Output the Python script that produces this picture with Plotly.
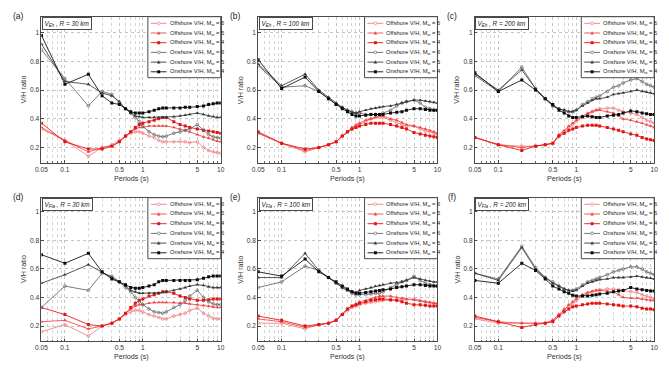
import plotly.graph_objects as go

W, H = 669, 374

periods = [0.05, 0.1, 0.2, 0.3, 0.4, 0.5, 0.6, 0.7, 0.8, 0.9, 1.0, 1.2, 1.4, 1.6, 1.8,
           2.0, 2.5, 3.0, 3.5, 4.0, 5.0, 6.0, 7.0, 8.0, 9.0, 10.0]

x_tickvals = [0.05, 0.1, 0.5, 1, 5, 10]
x_ticktext = ["0.05", "0.1", "0.5", "1", "5", "10"]
x_minor = [0.06, 0.07, 0.08, 0.09, 0.2, 0.3, 0.4, 0.6, 0.7, 0.8, 0.9, 2, 3, 4, 6, 7, 8, 9]
y_tickvals = [0.2, 0.4, 0.6, 0.8, 1.0]
y_ticktext = ["0.2", "0.4", "0.6", "0.8", "1"]

series_names = ["Offshore V/H, M<sub>w</sub> = 6", "Offshore V/H, M<sub>w</sub> = 5",
                "Offshore V/H, M<sub>w</sub> = 4", "Onshore V/H, M<sub>w</sub> = 6",
                "Onshore V/H, M<sub>w</sub> = 5", "Onshore V/H, M<sub>w</sub> = 4"]

panel_letters = ["(a)", "(b)", "(c)", "(d)", "(e)", "(f)"]
panel_titles = ["V<sub>Eh</sub> , R = 30 km", "V<sub>Eh</sub> , R = 100 km", "V<sub>Eh</sub> , R = 200 km",
                "V<sub>Fla</sub> , R = 30 km", "V<sub>Fla</sub> , R = 100 km", "V<sub>Fla</sub> , R = 200 km"]

# ---- (a) VEh, R = 30 km
a_off_m6 = [0.33, 0.25, 0.14, 0.20, 0.22, 0.25, 0.28, 0.30, 0.31, 0.31, 0.30, 0.28, 0.27, 0.25, 0.24, 0.24, 0.24, 0.245, 0.24, 0.235, 0.24, 0.20, 0.18, 0.17, 0.165, 0.16]
a_off_m5 = [0.34, 0.25, 0.17, 0.20, 0.21, 0.24, 0.28, 0.31, 0.33, 0.34, 0.34, 0.35, 0.35, 0.35, 0.35, 0.35, 0.34, 0.33, 0.32, 0.31, 0.29, 0.275, 0.265, 0.255, 0.245, 0.24]
a_off_m4 = [0.37, 0.24, 0.19, 0.19, 0.21, 0.24, 0.28, 0.31, 0.34, 0.36, 0.37, 0.38, 0.39, 0.40, 0.41, 0.41, 0.38, 0.36, 0.35, 0.34, 0.33, 0.32, 0.315, 0.31, 0.305, 0.30]
a_on_m6 = [0.88, 0.68, 0.49, 0.59, 0.57, 0.51, 0.47, 0.44, 0.41, 0.38, 0.35, 0.31, 0.29, 0.28, 0.275, 0.28, 0.30, 0.31, 0.32, 0.33, 0.36, 0.32, 0.29, 0.275, 0.27, 0.265]
a_on_m5 = [0.92, 0.66, 0.64, 0.58, 0.56, 0.52, 0.47, 0.44, 0.42, 0.415, 0.41, 0.41, 0.41, 0.41, 0.41, 0.41, 0.415, 0.42, 0.425, 0.43, 0.44, 0.43, 0.42, 0.415, 0.41, 0.41]
a_on_m4 = [0.98, 0.64, 0.71, 0.56, 0.51, 0.50, 0.47, 0.45, 0.44, 0.44, 0.44, 0.45, 0.46, 0.47, 0.475, 0.475, 0.475, 0.475, 0.48, 0.48, 0.485, 0.49, 0.50, 0.505, 0.51, 0.51]

# ---- (b) VEh, R = 100 km
b_off_m6 = [0.30, 0.23, 0.17, 0.20, 0.22, 0.24, 0.28, 0.31, 0.33, 0.35, 0.36, 0.38, 0.40, 0.41, 0.415, 0.41, 0.39, 0.37, 0.36, 0.35, 0.35, 0.33, 0.315, 0.31, 0.30, 0.29]
b_off_m5 = [0.30, 0.23, 0.18, 0.20, 0.22, 0.24, 0.28, 0.31, 0.34, 0.36, 0.37, 0.39, 0.40, 0.41, 0.42, 0.42, 0.40, 0.39, 0.375, 0.36, 0.35, 0.34, 0.33, 0.32, 0.31, 0.30]
b_off_m4 = [0.31, 0.23, 0.19, 0.20, 0.22, 0.24, 0.28, 0.31, 0.33, 0.34, 0.35, 0.36, 0.37, 0.37, 0.37, 0.37, 0.36, 0.35, 0.34, 0.33, 0.305, 0.295, 0.285, 0.28, 0.275, 0.27]
b_on_m6 = [0.77, 0.62, 0.63, 0.59, 0.54, 0.50, 0.48, 0.46, 0.45, 0.44, 0.44, 0.43, 0.43, 0.43, 0.43, 0.44, 0.46, 0.49, 0.51, 0.52, 0.53, 0.51, 0.48, 0.47, 0.46, 0.46]
b_on_m5 = [0.78, 0.63, 0.71, 0.60, 0.55, 0.51, 0.48, 0.46, 0.445, 0.44, 0.45, 0.46, 0.47, 0.475, 0.48, 0.485, 0.49, 0.50, 0.51, 0.52, 0.53, 0.53, 0.525, 0.52, 0.515, 0.51]
b_on_m4 = [0.81, 0.61, 0.69, 0.59, 0.54, 0.50, 0.47, 0.45, 0.43, 0.42, 0.42, 0.425, 0.43, 0.43, 0.43, 0.43, 0.44, 0.445, 0.45, 0.46, 0.47, 0.47, 0.465, 0.46, 0.46, 0.46]

# ---- (c) VEh, R = 200 km
c_off_m6 = [0.27, 0.22, 0.21, 0.21, 0.22, 0.23, 0.28, 0.31, 0.34, 0.36, 0.38, 0.41, 0.43, 0.45, 0.46, 0.47, 0.475, 0.475, 0.46, 0.45, 0.44, 0.43, 0.41, 0.39, 0.38, 0.37]
c_off_m5 = [0.27, 0.22, 0.20, 0.21, 0.22, 0.23, 0.29, 0.32, 0.35, 0.37, 0.39, 0.42, 0.44, 0.45, 0.46, 0.46, 0.45, 0.44, 0.42, 0.40, 0.39, 0.38, 0.37, 0.36, 0.35, 0.34]
c_off_m4 = [0.27, 0.22, 0.18, 0.21, 0.22, 0.23, 0.28, 0.30, 0.32, 0.33, 0.34, 0.35, 0.355, 0.355, 0.355, 0.35, 0.34, 0.33, 0.32, 0.31, 0.295, 0.285, 0.27, 0.26, 0.255, 0.25]
c_on_m6 = [0.70, 0.59, 0.76, 0.61, 0.54, 0.49, 0.47, 0.46, 0.45, 0.45, 0.46, 0.50, 0.52, 0.54, 0.55, 0.56, 0.59, 0.62, 0.63, 0.65, 0.67, 0.68, 0.66, 0.64, 0.63, 0.62]
c_on_m5 = [0.71, 0.60, 0.74, 0.61, 0.54, 0.49, 0.47, 0.46, 0.45, 0.45, 0.46, 0.49, 0.51, 0.53, 0.54, 0.54, 0.55, 0.57, 0.575, 0.58, 0.59, 0.60, 0.59, 0.585, 0.58, 0.575]
c_on_m4 = [0.72, 0.59, 0.67, 0.60, 0.54, 0.50, 0.46, 0.44, 0.42, 0.41, 0.41, 0.415, 0.42, 0.415, 0.41, 0.41, 0.42, 0.425, 0.43, 0.44, 0.455, 0.45, 0.44, 0.435, 0.43, 0.43]

# ---- (d) VFla, R = 30 km
d_off_m6 = [0.16, 0.21, 0.13, 0.20, 0.22, 0.25, 0.28, 0.30, 0.31, 0.31, 0.30, 0.28, 0.27, 0.26, 0.25, 0.25, 0.27, 0.28, 0.29, 0.31, 0.325, 0.29, 0.27, 0.255, 0.25, 0.25]
d_off_m5 = [0.23, 0.24, 0.18, 0.20, 0.22, 0.25, 0.29, 0.32, 0.34, 0.35, 0.35, 0.36, 0.365, 0.365, 0.365, 0.365, 0.365, 0.36, 0.36, 0.355, 0.35, 0.345, 0.34, 0.335, 0.33, 0.33]
d_off_m4 = [0.33, 0.28, 0.21, 0.20, 0.22, 0.25, 0.29, 0.33, 0.36, 0.38, 0.39, 0.41, 0.42, 0.43, 0.44, 0.44, 0.43, 0.41, 0.40, 0.39, 0.38, 0.38, 0.385, 0.39, 0.39, 0.39]
d_on_m6 = [0.33, 0.48, 0.45, 0.57, 0.55, 0.51, 0.47, 0.44, 0.40, 0.37, 0.35, 0.32, 0.30, 0.295, 0.29, 0.30, 0.33, 0.35, 0.38, 0.41, 0.45, 0.40, 0.37, 0.355, 0.35, 0.35]
d_on_m5 = [0.50, 0.56, 0.63, 0.58, 0.54, 0.51, 0.48, 0.45, 0.44, 0.43, 0.43, 0.43, 0.43, 0.43, 0.435, 0.44, 0.45, 0.46, 0.47, 0.48, 0.49, 0.485, 0.475, 0.47, 0.47, 0.47]
d_on_m4 = [0.70, 0.64, 0.71, 0.58, 0.53, 0.51, 0.49, 0.47, 0.465, 0.465, 0.47, 0.48, 0.49, 0.51, 0.52, 0.52, 0.52, 0.52, 0.52, 0.52, 0.525, 0.535, 0.545, 0.55, 0.55, 0.55]

# ---- (e) VFla, R = 100 km
e_off_m6 = [0.22, 0.22, 0.18, 0.21, 0.22, 0.24, 0.28, 0.31, 0.33, 0.34, 0.35, 0.36, 0.365, 0.37, 0.375, 0.38, 0.38, 0.38, 0.38, 0.385, 0.39, 0.38, 0.37, 0.365, 0.36, 0.355]
e_off_m5 = [0.25, 0.23, 0.19, 0.21, 0.22, 0.24, 0.28, 0.32, 0.34, 0.355, 0.37, 0.38, 0.39, 0.40, 0.41, 0.41, 0.41, 0.40, 0.395, 0.39, 0.385, 0.375, 0.37, 0.365, 0.36, 0.36]
e_off_m4 = [0.27, 0.24, 0.20, 0.21, 0.22, 0.24, 0.28, 0.32, 0.34, 0.35, 0.36, 0.37, 0.38, 0.385, 0.39, 0.39, 0.385, 0.38, 0.37, 0.36, 0.35, 0.35, 0.345, 0.34, 0.34, 0.34]
e_on_m6 = [0.47, 0.51, 0.62, 0.59, 0.54, 0.50, 0.47, 0.45, 0.43, 0.42, 0.42, 0.42, 0.425, 0.43, 0.43, 0.44, 0.47, 0.49, 0.51, 0.52, 0.55, 0.52, 0.50, 0.49, 0.485, 0.48]
e_on_m5 = [0.54, 0.54, 0.71, 0.59, 0.54, 0.50, 0.47, 0.45, 0.44, 0.435, 0.45, 0.46, 0.47, 0.48, 0.485, 0.49, 0.50, 0.505, 0.51, 0.52, 0.54, 0.53, 0.52, 0.515, 0.51, 0.51]
e_on_m4 = [0.58, 0.55, 0.67, 0.58, 0.54, 0.51, 0.48, 0.46, 0.44, 0.43, 0.43, 0.435, 0.44, 0.445, 0.45, 0.455, 0.46, 0.47, 0.475, 0.48, 0.49, 0.49, 0.485, 0.48, 0.48, 0.48]

# ---- (f) VFla, R = 200 km
f_off_m6 = [0.25, 0.22, 0.22, 0.22, 0.22, 0.24, 0.28, 0.31, 0.34, 0.36, 0.38, 0.41, 0.43, 0.44, 0.45, 0.455, 0.46, 0.46, 0.455, 0.45, 0.44, 0.435, 0.42, 0.41, 0.40, 0.39]
f_off_m5 = [0.26, 0.23, 0.22, 0.22, 0.22, 0.24, 0.28, 0.32, 0.35, 0.37, 0.39, 0.42, 0.435, 0.445, 0.45, 0.45, 0.445, 0.44, 0.42, 0.40, 0.395, 0.395, 0.39, 0.385, 0.38, 0.38]
f_off_m4 = [0.27, 0.23, 0.19, 0.21, 0.22, 0.23, 0.27, 0.30, 0.32, 0.335, 0.34, 0.35, 0.355, 0.36, 0.36, 0.36, 0.355, 0.35, 0.345, 0.34, 0.34, 0.335, 0.325, 0.32, 0.32, 0.315]
f_on_m6 = [0.57, 0.53, 0.76, 0.61, 0.54, 0.51, 0.48, 0.46, 0.45, 0.45, 0.46, 0.49, 0.51, 0.52, 0.53, 0.54, 0.56, 0.58, 0.59, 0.60, 0.615, 0.615, 0.60, 0.58, 0.57, 0.56]
f_on_m5 = [0.57, 0.52, 0.75, 0.60, 0.54, 0.50, 0.48, 0.46, 0.45, 0.445, 0.45, 0.48, 0.50, 0.51, 0.52, 0.525, 0.53, 0.54, 0.54, 0.54, 0.545, 0.55, 0.545, 0.54, 0.535, 0.53]
f_on_m4 = [0.52, 0.50, 0.64, 0.59, 0.53, 0.48, 0.46, 0.44, 0.43, 0.415, 0.41, 0.41, 0.41, 0.415, 0.42, 0.425, 0.43, 0.44, 0.445, 0.45, 0.47, 0.46, 0.455, 0.45, 0.445, 0.445]

panels = [
    [a_off_m6, a_off_m5, a_off_m4, a_on_m6, a_on_m5, a_on_m4],
    [b_off_m6, b_off_m5, b_off_m4, b_on_m6, b_on_m5, b_on_m4],
    [c_off_m6, c_off_m5, c_off_m4, c_on_m6, c_on_m5, c_on_m4],
    [d_off_m6, d_off_m5, d_off_m4, d_on_m6, d_on_m5, d_on_m4],
    [e_off_m6, e_off_m5, e_off_m4, e_on_m6, e_on_m5, e_on_m4],
    [f_off_m6, f_off_m5, f_off_m4, f_on_m6, f_on_m5, f_on_m4],
]

# ---- styles
colors = ["#f27c7c", "#f04646", "#e41212", "#666666", "#3a3a3a", "#0a0a0a"]
symbols = ["circle-open", "triangle-up", "square", "circle-open", "triangle-up", "square"]
msizes = [2.8, 3.4, 3.0, 2.8, 3.4, 3.0]
FONT = "Liberation Sans, Arial, sans-serif"

# panel pixel boxes (left, right, top, bottom)
col_px = [(36, 218), (256, 438), (476, 658)]
row_px = [(16.7, 162.7), (197.7, 341)]
yranges = [[0.095, 1.11], [0.095, 1.1]]


def px(x):
    return x / W


def py(y):
    return 1 - y / H


fig = go.Figure()
shapes = []
annotations = []

for p in range(6):
    r, c = divmod(p, 3)
    L, R = col_px[c]
    T, B = row_px[r]
    idx = "" if p == 0 else str(p + 1)
    xa, ya = "x" + idx, "y" + idx
    fig.layout["xaxis" + idx] = dict(
        domain=[px(L), px(R)], anchor=ya, type="log",
        range=[-1.30103, 1.0], tickmode="array", tickvals=x_tickvals, ticktext=x_ticktext,
        showgrid=True, gridcolor="#c4c4c4", griddash="dot", gridwidth=0.8,
        minor=dict(tickmode="array", tickvals=x_minor, showgrid=True,
                   gridcolor="#d6d6d6", griddash="dot", gridwidth=0.7,
                   ticks="inside", ticklen=1.5, tickcolor="#666"),
        showline=True, linecolor="#4a4a4a", linewidth=1, mirror=True,
        ticks="inside", ticklen=2.5, tickcolor="#4a4a4a",
        tickfont=dict(size=6.6, color="#333", family=FONT), zeroline=False,
    )
    fig.layout["yaxis" + idx] = dict(
        domain=[py(B), py(T)], anchor=xa, range=yranges[r],
        tickmode="array", tickvals=y_tickvals, ticktext=y_ticktext,
        showgrid=True, gridcolor="#c4c4c4", griddash="dot", gridwidth=0.8,
        showline=True, linecolor="#4a4a4a", linewidth=1, mirror=True,
        ticks="inside", ticklen=2.5, tickcolor="#4a4a4a",
        tickfont=dict(size=6.6, color="#333", family=FONT), zeroline=False,
    )
    for s in range(6):
        col = colors[s]
        open_m = symbols[s].endswith("open")
        fig.add_trace(go.Scatter(
            x=periods, y=panels[p][s], xaxis=xa, yaxis=ya, mode="lines+markers",
            name=series_names[s], showlegend=False,
            line=dict(color=col, width=0.85),
            marker=dict(symbol=symbols[s], size=msizes[s], color=col,
                        line=dict(color=col, width=0.7 if open_m else 0)),
        ))

    # panel letter
    annotations.append(dict(x=px(L - 23), y=py(T - 1), xref="paper", yref="paper",
                            text=panel_letters[p], showarrow=False, xanchor="center", yanchor="middle",
                            font=dict(size=8.5, color="#222", family=FONT)))
    # axis titles
    annotations.append(dict(x=px((L + R) / 2), y=py(B + 15.5), xref="paper", yref="paper",
                            text="Periods (s)", showarrow=False, xanchor="center", yanchor="middle",
                            font=dict(size=7.2, color="#333", family=FONT)))
    annotations.append(dict(x=px(L - 18), y=py((T + B) / 2), xref="paper", yref="paper",
                            text="V/H ratio", showarrow=False, xanchor="center", yanchor="middle",
                            textangle=-90, font=dict(size=7.2, color="#333", family=FONT)))
    # title box
    annotations.append(dict(x=px(L + 0.5), y=py(T + 0.5), xref="paper", yref="paper",
                            text="<i>" + panel_titles[p] + "</i>", showarrow=False,
                            xanchor="left", yanchor="top", bgcolor="white",
                            bordercolor="#4a4a4a", borderwidth=1, borderpad=1.5,
                            font=dict(size=6.4, color="#222", family=FONT)))
    # legend box
    lx0, lx1 = R - 74, R
    ly0, ly1 = T, T + 61
    shapes.append(dict(type="rect", xref="paper", yref="paper", x0=px(lx0), x1=px(lx1),
                       y0=py(ly1), y1=py(ly0), fillcolor="white",
                       line=dict(color="#4a4a4a", width=1), layer="above"))
    for s in range(6):
        yy = T + 6.6 + s * 9.7
        col = colors[s]
        shapes.append(dict(type="line", xref="paper", yref="paper", x0=px(lx0 + 3), x1=px(lx0 + 19),
                           y0=py(yy), y1=py(yy), line=dict(color=col, width=0.9), layer="above"))
        cx = lx0 + 11
        if s % 3 == 0:
            shapes.append(dict(type="circle", xref="paper", yref="paper", x0=px(cx - 1.4), x1=px(cx + 1.4),
                               y0=py(yy + 1.4), y1=py(yy - 1.4), fillcolor="white",
                               line=dict(color=col, width=0.7), layer="above"))
        elif s % 3 == 1:
            path = "M {} {} L {} {} L {} {} Z".format(px(cx - 1.8), py(yy + 1.4), px(cx + 1.8), py(yy + 1.4),
                                                      px(cx), py(yy - 1.8))
            shapes.append(dict(type="path", xref="paper", yref="paper", path=path, fillcolor=col,
                               line=dict(color=col, width=0), layer="above"))
        else:
            shapes.append(dict(type="rect", xref="paper", yref="paper", x0=px(cx - 1.5), x1=px(cx + 1.5),
                               y0=py(yy + 1.5), y1=py(yy - 1.5), fillcolor=col,
                               line=dict(color=col, width=0), layer="above"))
        annotations.append(dict(x=px(lx0 + 20), y=py(yy), xref="paper", yref="paper",
                                text=series_names[s], showarrow=False, xanchor="left", yanchor="middle",
                                font=dict(size=5.8, color="#222", family=FONT)))

fig.update_layout(
    width=W, height=H, margin=dict(l=0, r=0, t=0, b=0),
    paper_bgcolor="white", plot_bgcolor="white",
    shapes=shapes, annotations=annotations, showlegend=False,
    font=dict(family=FONT, color="#333"),
)

fig.write_html(
    "out.html",
    config={"displayModeBar": False},
    post_script="document.body.style.margin='0';document.body.style.padding='0';"
                "document.body.style.overflow='hidden';",
)
